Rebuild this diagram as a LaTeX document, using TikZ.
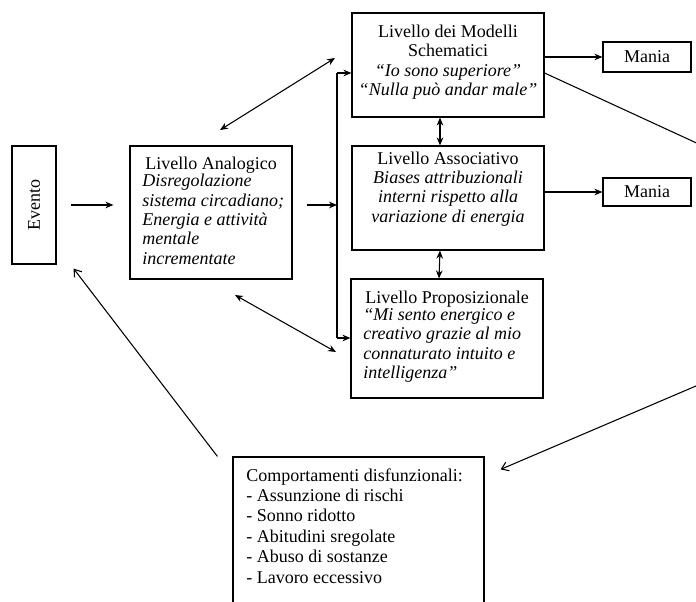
\documentclass[tikz,border=0pt]{standalone}
\usepackage{fontspec}
\setmainfont{Liberation Serif}
\usetikzlibrary{arrows.meta,fit}

\begin{document}
\begin{tikzpicture}[x=0.75pt,y=-0.75pt,
  box/.style={draw, line width=0.9pt, inner sep=0pt},
  txt/.style={inner sep=0pt, font=\fontsize{13.5}{14.5}\selectfont},
  itxt/.style={inner sep=0pt, font=\fontsize{13.5}{14.5}\selectfont\itshape},
  conn/.style={line width=0.8pt},
  arr/.style={conn,-{Stealth[length=6pt,width=5pt]}},
  darr/.style={conn,{Stealth[length=6pt,width=5pt]}-{Stealth[length=6pt,width=5pt]}},
  barb/.style={conn,-{Straight Barb[length=5pt,width=7pt]}},
]
\useasboundingbox (0,0) rectangle (696,601);
\clip (0,0) rectangle (696,601);
\fill[white] (0,0) rectangle (696,601);

% boxes
\node[box, fit={(12,146) (56,264)}]   (evento) {};
\node[box, fit={(130,146) (292,279)}] (ana) {};
\node[box, fit={(352,13) (544,117)}]  (mod) {};
\node[box, fit={(352,146) (544,250)}] (assoc) {};
\node[box, fit={(351,279) (543,398)}] (prop) {};
\node[box, fit={(603,42) (691,72)}]   (mania1) {};
\node[box, fit={(603,178) (691,206)}] (mania2) {};
\node[box, fit={(233,457) (484,640)}] (comp) {};

% texts (multi-line nodes are placed by the baseline of their last line)
\node[txt, rotate=90] (evento-t) at (evento.center) {Evento};
\node[txt] (mania1-t) at (mania1.center) {Mania};
\node[txt] (mania2-t) at (mania2.center) {Mania};

\node[txt, anchor=base] (ana-t) at (211,169) {Livello Analogico};
\node[itxt, anchor=base west, align=left] (ana-b) at (142,264)
  {Disregolazione\\sistema circadiano;\\Energia e attività\\mentale\\incrementate};

\node[txt, anchor=base, align=center] (mod-t) at (448,95.5)
  {Livello dei Modelli\\Schematici\\\textit{“Io sono superiore”}\\\textit{“Nulla può andar male”}};

\node[txt, anchor=base, align=center] (assoc-t) at (448,222)
  {Livello Associativo\\\textit{Biases attribuzionali}\\\textit{interni rispetto alla}\\\textit{variazione di energia}};

\node[txt, anchor=base] (prop-t) at (447,303) {Livello Proposizionale};
\node[itxt, anchor=base west, align=left] (prop-b) at (363,378.5)
  {“Mi sento energico e\\creativo grazie al mio\\connaturato intuito e\\intelligenza”};

\node[txt, anchor=base west, align=left, font=\fontsize{13.5}{15.3}\selectfont] (comp-t) at (246,583)
  {Comportamenti disfunzionali:\\- Assunzione di rischi\\- Sonno ridotto\\- Abitudini sregolate\\- Abuso di sostanze\\- Lavoro eccessivo};

% junction line feeding the upper and lower levels
\coordinate (jmid) at (337,205);
\coordinate (jtop) at (337,73);
\coordinate (jbot) at (337,338);

\draw[arr, shorten <=10.5pt, shorten >=12pt] (evento.east) -- (evento.east -| ana.west);
\draw[arr, shorten <=10.5pt] (jmid -| ana.east) -- (jmid);
\draw[conn] (jtop) -- (jbot);
\draw[arr] (jtop) -- (jtop -| mod.west);
\draw[arr] (jbot) -- (jbot -| prop.west);

\draw[arr] (mod.east |- mania1.west) -- (mania1.west);
\draw[arr] (assoc.east |- mania2.west) -- (mania2.west);

\draw[darr] ([xshift=-6pt]mod.south) -- ([xshift=-6pt]assoc.north);
\draw[darr] ([xshift=-6pt]assoc.south) -- ([xshift=-6pt]prop.north);

\coordinate (am1) at (220,130);
\coordinate (am2) at (335,58);
\draw[darr] (am1) -- (am2);
\coordinate (ap1) at (235,295);
\coordinate (ap2) at (336,352);
\draw[darr] (ap1) -- (ap2);

% feedback loops
\coordinate (elbow) at (970,269);
\draw[barb] ([yshift=-6pt]mod.east) -- (elbow) -- ([shift={(16,13)}]comp.north east);
\draw[barb] ([xshift=-11.25pt]comp.north west) -- ([shift={(17,4)}]evento.south east);
\end{tikzpicture}
\end{document}
